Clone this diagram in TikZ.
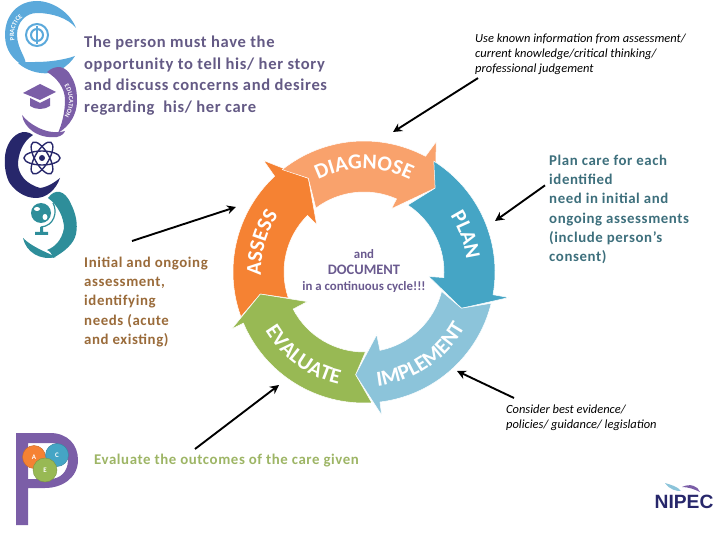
\documentclass[tikz,border=0pt]{standalone}
\usepackage{fontspec}
\setmainfont{Carlito}
\newfontfamily\nipecfont{Liberation Sans}
\usepackage{xcolor}
\usetikzlibrary{arrows.meta,decorations.text}
\definecolor{assesscol}{HTML}{F58233}
\definecolor{diagcol}{HTML}{F9A26C}
\definecolor{plancol}{HTML}{45A5C5}
\definecolor{implcol}{HTML}{8CC4DA}
\definecolor{evalcol}{HTML}{98B954}
\definecolor{persontext}{HTML}{645A85}
\definecolor{initialtext}{HTML}{9A6B3A}
\definecolor{plantext}{HTML}{3D6F7C}
\definecolor{evaltext}{HTML}{9DB565}
\definecolor{centretext}{HTML}{6A5A8F}
\definecolor{pracblue}{HTML}{5BA9DB}
\definecolor{edupurple}{HTML}{7B5EA7}
\definecolor{navy}{HTML}{27276B}
\definecolor{globeteal}{HTML}{2E8E9A}
\newcommand{\ringfont}{\fontsize{21.5}{21.5}\selectfont\bfseries}
\newcommand{\logofont}{\fontsize{6.5}{6.5}\selectfont\bfseries}
\newcommand{\ringseg}[9]{\fill[#1,draw=white,line width=.5pt] (#2:131)
  arc[start angle=#2,end angle=#5,radius=131] -- (#6) -- (#7) -- (#8) -- (#9:80)
  arc[start angle=#9,end angle=#4,radius=80] -- (#3) -- cycle;}
\begin{document}
\begin{tikzpicture}[x=1bp,y=-1bp,
  bignote/.style={inner sep=0pt, anchor=north west, align=left, font=\fontsize{16.6}{21.5}\selectfont\bfseries\addfontfeatures{LetterSpace=4}},
  midnote/.style={inner sep=0pt, anchor=north west, align=left, font=\fontsize{14.9}{19.2}\selectfont\bfseries\addfontfeatures{LetterSpace=4}},
  smallnote/.style={inner sep=0pt, anchor=north west, align=left, font=\fontsize{12.5}{15}\selectfont\itshape},
  callout/.style={-{Stealth[length=9pt,width=9pt]}, line width=1.9pt, black},
  ringlabel/.style={decorate, decoration={text along path, text color=white, text align=center, text={#1}}},
  circlelabel/.style={circle, inner sep=0pt, text=white, font=\fontsize{7}{7}\selectfont\bfseries}]
  \useasboundingbox (0,0) rectangle (720,540);

  % the cycle
  \begin{scope}[shift={(364,272)},y=1bp]
    \ringseg{assesscol}{200}{192:106}{199}{133}{132:150}{120.7:109}{135:67}{135}
    \ringseg{diagcol}{128.6}{120.7:109}{127}{62}{61:149}{49.7:110}{66.5:69}{66}
    \ringseg{plancol}{57.8}{49.7:110}{56.8}{-10}{-10:147}{-20.4:104}{-4:65}{-4}
    \ringseg{implcol}{-13.8}{-20.4:104}{-14}{-83}{-83:144}{-94.7:103}{-78.5:64}{-78.5}
    \ringseg{evalcol}{-86.6}{-94.7:103}{-89}{-157}{-156.7:144}{-168:106}{-152.4:64}{-152.4}
    \path[ringlabel={|\ringfont|ASSESS}] (209:103) arc[start angle=209,end angle=119,radius=103];
    \path[ringlabel={|\ringfont|DIAGNOSE}] (135:103) arc[start angle=135,end angle=45,radius=103];
    \path[ringlabel={|\ringfont|PLAN}] (65:103) arc[start angle=65,end angle=-25,radius=103];
    \path[ringlabel={|\ringfont|IMPLEMENT}] (-101:115) arc[start angle=-101,end angle=-11,radius=115];
    \path[ringlabel={|\ringfont|EVALUATE}] (189:115) arc[start angle=189,end angle=279,radius=115];
  \end{scope}
  \node[inner sep=0pt, align=center, text=centretext, font=\fontsize{12.9}{16.5}\selectfont\bfseries] (centre) at (364,271)
    {and\\{\fontsize{14.5}{16.5}\selectfont DOCUMENT}\\in a continuous cycle!!!};

  % notes
  \node[bignote, text=persontext] (person) at (84,36) {The person must have the\\opportunity to tell his/ her story\\and discuss concerns and desires\\regarding\ \ his/ her care};
  \node[smallnote] (known) at (475,34) {Use known information from assessment/\\current knowledge/critical thinking/\\professional judgement};
  \node[midnote, text=plantext] (plancare) at (549,155) {Plan care for each\\identified\\need in initial and\\ongoing assessments\\(include person's\\consent)};
  \node[midnote, text=initialtext] (initial) at (84,257) {Initial and ongoing\\assessment,\\identifying\\needs (acute\\and existing)};
  \node[smallnote] (consider) at (506,405) {Consider best evidence/\\policies/ guidance/ legislation};
  \node[midnote, text=evaltext] (outcomes) at (94,454) {Evaluate the outcomes of the care given};

  % callouts
  \coordinate (diagpt) at (393,132);
  \coordinate (planpt) at (495,221);
  \coordinate (assesspt) at (236,207);
  \coordinate (implpt) at (457,371);
  \coordinate (evalpt) at (279,385);
  \draw[callout] ([shift={(3,3)}]known.south west) -- (diagpt);
  \draw[callout] ([shift={(-4,-24)}]plancare.west) -- (planpt);
  \draw[callout] ([shift={(48,-16)}]initial.north west) -- (assesspt);
  \draw[callout] ([shift={(8,-7)}]consider.north west) -- (implpt);
  \draw[callout] ([shift={(101,-5)}]outcomes.north west) -- (evalpt);

  % practice logo
  \fill[pracblue] (76,28) .. controls (70,12) and (52,1) .. (37,1) .. controls (18,1) and (5,15) .. (5,35)
    .. controls (5,50) and (13,60) .. (24,66) .. controls (30,62) and (17,50) .. (17,35)
    .. controls (17,22) and (26,13) .. (37,13) .. controls (52,13) and (68,18) .. (76,28) -- cycle;
  \fill[pracblue] (18,63) .. controls (30,74) and (50,76) .. (60,70) .. controls (67,66) and (72,61) .. (75,56)
    .. controls (64,60) and (48,62) .. (36,62) .. controls (30,62) and (24,62) .. (18,63) -- cycle;
  \draw[pracblue, line width=2pt] (37,35) circle[radius=11] circle[radius=6];
  \draw[pracblue, line width=1.2pt] (37,26) -- (37,44);
  \begin{scope}[shift={(37,35)},y=1bp]
    \path[ringlabel={|\logofont|PRACTICE}] (220:23) arc[start angle=220,end angle=102,radius=23];
  \end{scope}

  % education logo
  \fill[edupurple] (47,72) .. controls (56,64) and (66,66) .. (71,76) .. controls (76,84) and (77,92) .. (77,101)
    .. controls (77,114) and (70,126) .. (58,133) .. controls (62,124) and (65,112) .. (65,100)
    .. controls (65,88) and (57,78) .. (47,72) -- cycle;
  \fill[edupurple] (22,115) .. controls (24,128) and (38,139) .. (57,137) .. controls (61,136) and (64,134) .. (65,131)
    .. controls (55,134) and (44,131) .. (37,127) .. controls (31,124) and (26,120) .. (22,115) -- cycle;
  \fill[edupurple] (23,93) -- (40,84) -- (56,92) -- (40,100) -- cycle;
  \fill[edupurple] (30,98) -- (40,103) -- (50,98) -- (50,106) .. controls (44,110) and (36,110) .. (30,106) -- cycle;
  \begin{scope}[shift={(41,101)},y=1bp]
    \path[ringlabel={|\logofont|EDUCATION}] (60:28) arc[start angle=60,end angle=-60,radius=28];
  \end{scope}

  % atom logo
  \fill[navy] (33,135) .. controls (24,128) and (13,134) .. (8,145) .. controls (3,155) and (4,172) .. (9,182)
    .. controls (14,190) and (24,198) .. (36,198) .. controls (46,198) and (56,190) .. (60,178)
    .. controls (55,182) and (48,187) .. (40,188) .. controls (26,184) and (19,175) .. (18,165)
    .. controls (18,155) and (22,142) .. (33,135) -- cycle;
  \draw[navy, line width=1.4pt] (42,158) ellipse[x radius=18, y radius=7];
  \draw[navy, line width=1.4pt, rotate around={60:(42,158)}] (42,158) ellipse[x radius=18, y radius=7];
  \draw[navy, line width=1.4pt, rotate around={120:(42,158)}] (42,158) ellipse[x radius=18, y radius=7];
  \fill[navy] (42,158) circle[radius=3];

  % globe logo
  \fill[globeteal] (48,198) .. controls (55,188) and (65,190) .. (71,204) .. controls (76,214) and (78,224) .. (76,234)
    .. controls (74,244) and (64,252) .. (53,258) .. controls (52,254) and (50,251) .. (47,250)
    .. controls (55,247) and (62,240) .. (64,228) .. controls (64,218) and (58,205) .. (48,198) -- cycle;
  \fill[globeteal] (23,238) .. controls (26,252) and (40,261) .. (56,257) .. controls (46,252) and (32,247) .. (23,238) -- cycle;
  \fill[globeteal] (41,213) circle[radius=10];
  \fill[white] (37,209) ellipse[x radius=3, y radius=2] (45,217) ellipse[x radius=2.5, y radius=3];
  \draw[globeteal, line width=1.2pt] (53,203) .. controls (58,212) and (54,226) .. (41,227);
  \fill[globeteal] (40,227) rectangle (43,232) (35,232) rectangle (48,235);

  % P logo
  \fill[edupurple, even odd rule] (16,433) -- (50,433) .. controls (68,433) and (78,445) .. (78,460)
    .. controls (78,478) and (62,488) .. (45,488) -- (28,488) -- (28,525) -- (16,525) -- cycle
    (28,443) -- (50,443) .. controls (62,443) and (68,450) .. (68,460) .. controls (68,472) and (60,479) .. (50,479) -- (28,479) -- cycle;
  \node[circlelabel, fill=assesscol, draw=assesscol!80!black, minimum size=23bp] (acircle) at (34,457) {A};
  \node[circlelabel, fill=plancol, draw=plancol!80!black, minimum size=23bp] (ccircle) at (57,455) {C};
  \node[circlelabel, fill=evalcol, draw=evalcol!80!black, minimum size=24bp] (ecircle) at (45,470) {E};

  % NIPEC logo
  \fill[implcol] (665,483) .. controls (670,490) and (676,491) .. (681,491) .. controls (677,486) and (671,485) .. (665,483) -- cycle;
  \fill[edupurple] (682,487) .. controls (690,483) and (698,486) .. (700,492) .. controls (694,489) and (688,487) .. (682,487) -- cycle;
  \node[inner sep=0pt, text=navy, font=\nipecfont\fontsize{19.3}{19.3}\selectfont\bfseries] (nipec) at (684,502) {NIPEC};
\end{tikzpicture}
\end{document}
